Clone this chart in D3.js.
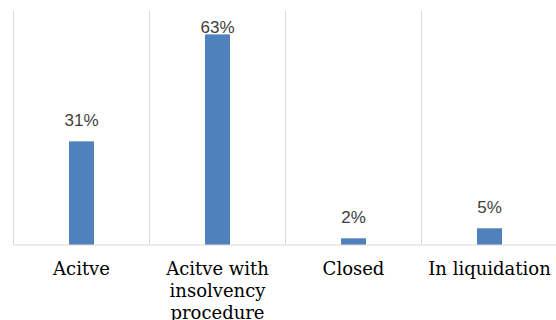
<!DOCTYPE html>
<html>
<head>
<meta charset="utf-8">
<script src="https://cdn.jsdelivr.net/npm/d3@7/dist/d3.min.js"></script>
<style>
  html, body { margin: 0; padding: 0; background: #fff; }
  svg { display: block; }
</style>
</head>
<body>
<svg id="chart" width="556" height="320"></svg>
<script>
// Company status shares
const categories = ["Acitve", "Acitve with insolvency procedure", "Closed", "In liquidation"];
const categoryLines = [["Acitve"], ["Acitve with", "insolvency", "procedure"], ["Closed"], ["In liquidation"]];
const values = [31, 63, 2, 5];
const valueLabels = ["31%", "63%", "2%", "5%"];

const svg = d3.select("#chart");
const plot = { left: 13.5, right: 557.5, top: 11, bottom: 245 };

const x = d3.scaleBand()
  .domain(categories)
  .range([plot.left, plot.right])
  .paddingInner(0)
  .paddingOuter(0);

const y = d3.scaleLinear().domain([0, 70]).range([plot.bottom, plot.top]);

const barWidth = 25;
const grid = "#d9d9d9";

// vertical category separators
const edges = categories.map(c => x(c)).concat([plot.right]);
svg.append("g").selectAll("line").data(edges).join("line")
  .attr("x1", d => d).attr("x2", d => d)
  .attr("y1", plot.top).attr("y2", plot.bottom)
  .attr("stroke", grid).attr("stroke-width", 1);

// bars
svg.append("g").selectAll("rect").data(values).join("rect")
  .attr("x", (d, i) => x(categories[i]) + x.bandwidth() / 2 - barWidth / 2)
  .attr("y", d => y(d))
  .attr("width", barWidth)
  .attr("height", d => plot.bottom - y(d))
  .attr("fill", "#4f81bd");

// baseline
svg.append("line")
  .attr("x1", plot.left).attr("x2", plot.right)
  .attr("y1", plot.bottom).attr("y2", plot.bottom)
  .attr("stroke", grid).attr("stroke-width", 1);

// value labels, kept inside the plot area
svg.append("g").selectAll("text").data(values).join("text")
  .attr("x", (d, i) => x(categories[i]) + x.bandwidth() / 2)
  .attr("y", d => Math.max(y(d) - 15, plot.top + 22))
  .attr("text-anchor", "middle")
  .attr("font-family", "'Liberation Sans', Arial, sans-serif")
  .attr("font-size", 17)
  .attr("fill", "#404040")
  .text((d, i) => valueLabels[i]);

// category labels
const cat = svg.append("g").selectAll("text").data(categoryLines).join("text")
  .attr("text-anchor", "middle")
  .attr("font-family", "'DejaVu Serif', serif")
  .attr("font-size", 18)
  .attr("fill", "#000");
cat.each(function(lines, i) {
  const t = d3.select(this);
  lines.forEach((ln, j) => {
    t.append("tspan")
      .attr("x", x(categories[i]) + x.bandwidth() / 2)
      .attr("y", 275 + j * 22)
      .text(ln);
  });
});
</script>
</body>
</html>
